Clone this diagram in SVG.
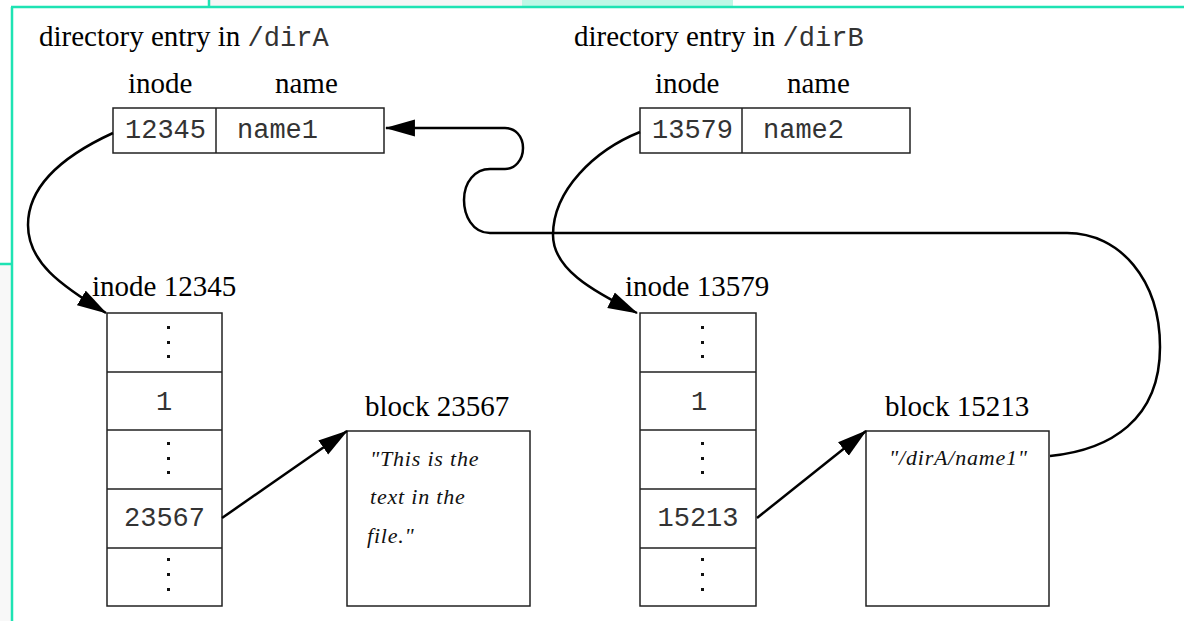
<svg xmlns="http://www.w3.org/2000/svg" width="1184" height="621" viewBox="0 0 1184 621">
<defs>
<marker id="ah" markerUnits="userSpaceOnUse" markerWidth="30" markerHeight="18" viewBox="0 0 28 16" refX="27" refY="8" orient="auto"><path d="M0,0 L28,8 L0,16 z" fill="#000"/></marker>
</defs>
<style>
.serif{font-family:"Liberation Serif","Times New Roman",serif;font-size:29px;fill:#000}
.mono{font-family:"Liberation Mono","Courier New",monospace;font-size:27px;fill:#333}
.ital{font-family:"Liberation Serif","Times New Roman",serif;font-style:italic;font-size:22px;letter-spacing:0.8px;fill:#111}
.box{fill:#fff;stroke:#222;stroke-width:1.5}
.conn{fill:none;stroke:#000;stroke-width:2.5}
.frame{stroke:#1ee3b3;stroke-width:2.5;fill:none}
.dot{fill:#111}
</style>
<rect width="1184" height="621" fill="#fff"/>
<g id="frame">
<rect x="209" y="0" width="313" height="6" fill="#f6f6f6"/>
<rect x="0" y="265" width="11" height="356" fill="#f8f8f8"/>
<rect x="522" y="0" width="211" height="8" fill="#bff8e6"/>
<path class="frame" d="M11,7 H1184 M12,7 V621 M209,0 V7 M0,264 H12"/>
</g>
<g id="dirA">
<text class="serif" x="39" y="46">directory entry in <tspan class="mono" font-size="27">/dirA</tspan></text>
<text class="serif" x="128" y="93">inode</text>
<text class="serif" x="275" y="93">name</text>
<rect class="box" x="113" y="108" width="271" height="45"/>
<line class="box" x1="216" y1="108" x2="216" y2="153"/>
<text class="mono" x="125" y="138">12345</text>
<text class="mono" x="237" y="138">name1</text>
</g>
<g id="dirB">
<text class="serif" x="574" y="46">directory entry in <tspan class="mono" font-size="27">/dirB</tspan></text>
<text class="serif" x="655" y="93">inode</text>
<text class="serif" x="787" y="93">name</text>
<rect class="box" x="640" y="108" width="270" height="45"/>
<line class="box" x1="742" y1="108" x2="742" y2="153"/>
<text class="mono" x="652" y="138">13579</text>
<text class="mono" x="763" y="138">name2</text>
</g>
<g id="inodeA">
<text class="serif" x="92" y="296">inode 12345</text>
<rect class="box" x="107" y="313" width="115" height="293"/>
<path class="box" d="M107,372 H222 M107,430 H222 M107,489 H222 M107,548 H222"/>
<g class="dot">
<rect x="167" y="326" width="3" height="3"/><rect x="167" y="341" width="3" height="3"/><rect x="167" y="355" width="3" height="3"/>
<rect x="167" y="442" width="3" height="3"/><rect x="167" y="457" width="3" height="3"/><rect x="167" y="471" width="3" height="3"/>
<rect x="167" y="558" width="3" height="3"/><rect x="167" y="573" width="3" height="3"/><rect x="167" y="588" width="3" height="3"/>
</g>
<text class="mono" x="164" y="410" text-anchor="middle">1</text>
<text class="mono" x="164.5" y="526" text-anchor="middle">23567</text>
</g>
<g id="inodeB">
<text class="serif" x="625" y="296">inode 13579</text>
<rect class="box" x="640" y="313" width="116" height="293"/>
<path class="box" d="M640,372 H756 M640,430 H756 M640,489 H756 M640,548 H756"/>
<g class="dot">
<rect x="701" y="326" width="3" height="3"/><rect x="701" y="341" width="3" height="3"/><rect x="701" y="355" width="3" height="3"/>
<rect x="701" y="442" width="3" height="3"/><rect x="701" y="457" width="3" height="3"/><rect x="701" y="471" width="3" height="3"/>
<rect x="701" y="558" width="3" height="3"/><rect x="701" y="573" width="3" height="3"/><rect x="701" y="588" width="3" height="3"/>
</g>
<text class="mono" x="699" y="410" text-anchor="middle">1</text>
<text class="mono" x="698" y="526" text-anchor="middle">15213</text>
</g>
<g id="blockA">
<text class="serif" x="365" y="416">block 23567</text>
<rect class="box" x="347" y="431" width="183" height="175"/>
<text class="ital" x="370" y="466">"This is the</text>
<text class="ital" x="370" y="504">text in the</text>
<text class="ital" x="367" y="543">file."</text>
</g>
<g id="blockB">
<text class="serif" x="885" y="416">block 15213</text>
<rect class="box" x="866" y="431" width="183" height="175"/>
<text class="ital" x="889" y="465">"/dirA/name1"</text>
</g>
<g id="connectors">
<path class="conn" marker-end="url(#ah)" d="M113,133 C65,155 28,185 28,225 C28,262 60,285 106,313"/>
<path class="conn" marker-end="url(#ah)" d="M640,132 C595,150 553,190 553,235 C553,268 590,290 637,313"/>
<path class="conn" marker-end="url(#ah)" d="M222,518 L347,431"/>
<path class="conn" marker-end="url(#ah)" d="M757,518 L866,431"/>
<path class="conn" marker-end="url(#ah)" d="M1050,456 C1110,450 1160,420 1160,347 C1160,280 1120,233 1067,233 L490,233 C472,233 464,215 464,200 C464,182 475,169 490,169 L505,169 C515,169 523,160 523,148 C523,136 515,128 505,128 L386,128"/>
</g>
</svg>
